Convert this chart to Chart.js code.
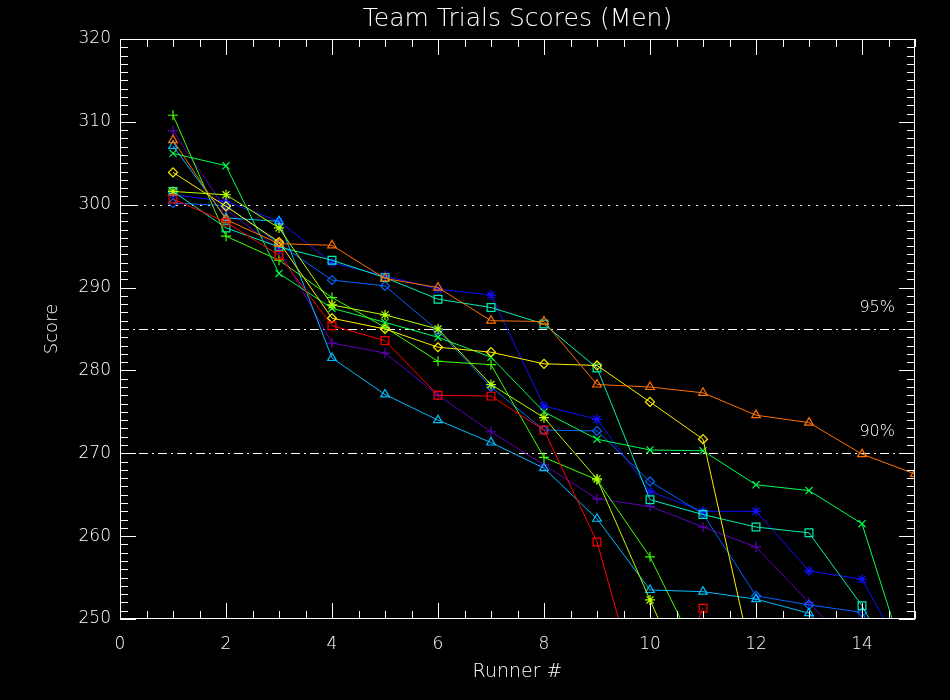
<!DOCTYPE html>
<html>
<head>
<meta charset="utf-8">
<script src="https://cdn.jsdelivr.net/npm/chart.js@4"></script>
<style>
  html, body { margin: 0; padding: 0; background: #000; }
</style>
</head>
<body>
<canvas id="chart" width="950" height="700"></canvas>
<script>
// runner positions (x) and axis ticks
const RUNNERS = [1, 2, 3, 4, 5, 6, 7, 8, 9, 10, 11, 12, 13, 14, 15];
const X_TICKS = [0, 2, 4, 6, 8, 10, 12, 14];
const Y_TICKS = [250, 260, 270, 280, 290, 300, 310, 320];
const REF_LEVELS = [300, 285, 270];
const REF_LABELS = ['', '95%', '90%'];

// scores per team, runner 1..n (values under 250 run off the plot)
const purplePlus  = [308.9, 299.4, 294.6, 283.3, 282.1, 277.0, 272.6, 268.6, 264.5, 263.6, 261.1, 258.7, 252.0, 245.0];
const blueStar    = [301.2, 300.4, 298.0, 293.0, 291.4, 289.8, 289.1, 275.7, 274.1, 265.4, 263.0, 263.0, 255.8, 254.8, 243.2];
const azureDiam   = [300.2, 299.9, 295.3, 290.9, 290.2, 284.8, 278.0, 272.8, 272.7, 266.6, 262.7, 252.8, 251.7, 250.8, 240.0];
const skyTri      = [307.1, 298.4, 298.0, 281.5, 277.1, 274.0, 271.3, 268.2, 262.1, 253.5, 253.3, 252.4, 250.7, 244.0];
const tealSquare  = [301.6, 297.2, 294.9, 293.3, 291.2, 288.6, 287.6, 285.6, 280.3, 264.4, 262.6, 261.1, 260.4, 251.6, 240.0];
const greenX      = [306.2, 304.7, 291.7, 287.5, 285.8, 284.0, 281.6, 275.0, 271.7, 270.4, 270.3, 266.2, 265.5, 261.5, 241.3];
const greenPlus   = [310.8, 296.2, 293.3, 288.8, 285.2, 281.1, 280.7, 269.5, 266.8, 257.5, 244.5];
const limeStar    = [301.6, 301.2, 297.2, 287.9, 286.7, 285.0, 278.3, 274.3, 266.9, 252.3, 238.0];
const yellowDiam  = [303.9, 299.8, 295.5, 286.3, 285.0, 282.8, 282.2, 280.8, 280.6, 276.2, 271.7, 243.0];
const orangeTri   = [307.8, 298.2, 295.3, 295.1, 291.1, 290.0, 286.0, 285.9, 278.3, 278.0, 277.3, 274.6, 273.7, 269.9, 267.5];
const redSquare   = [300.7, 297.9, 293.9, 285.4, 283.6, 277.0, 276.9, 272.8, 259.3, 236.5, 251.3];

const SERIES  = [purplePlus, blueStar, azureDiam, skyTri, tealSquare, greenX, greenPlus, limeStar, yellowDiam, orangeTri, redSquare];
const COLORS  = ['#5c00b8', '#1010ff', '#0064ff', '#00bcff', '#00f0b4', '#00ff50', '#3cff00', '#b4ff00', '#ffee00', '#ff7000', '#ff0000'];
const MARKERS = ['cross', 'star', 'rectRot', 'triangle', 'rect', 'crossRot', 'cross', 'star', 'rectRot', 'triangle', 'rect'];
const MARKER_R = { cross: 5, star: 5, rectRot: 4.5, triangle: 5, rect: 5.5, crossRot: 5 };

const FONT = '"DejaVu Sans", sans-serif';

// IDL-style box with inward ticks on all sides, reference lines and labels
const idlFrame = {
  id: 'idlFrame',
  beforeDatasetsDraw(chart) {
    const { ctx, chartArea: a, scales: { y } } = chart;
    ctx.save();
    ctx.strokeStyle = '#fff';
    ctx.lineWidth = 1;
    REF_LEVELS.forEach((lv, i) => {
      const py = Math.round(y.getPixelForValue(lv)) + 0.5;
      ctx.setLineDash(i === 0 ? [2, 6] : [9, 4, 2, 4]);
      ctx.beginPath();
      ctx.moveTo(a.left, py);
      ctx.lineTo(a.right, py);
      ctx.stroke();
    });
    ctx.setLineDash([]);
    ctx.fillStyle = '#fff';
    ctx.font = '200 16px ' + FONT;
    ctx.textAlign = 'right';
    ctx.textBaseline = 'middle';
    REF_LEVELS.forEach((lv, i) => {
      if (!REF_LABELS[i]) return;
      ctx.fillText(REF_LABELS[i], a.right - 20, y.getPixelForValue(lv) - 21);
    });
    ctx.restore();
  },
  afterDraw(chart) {
    const { ctx, chartArea: a, scales: { x, y } } = chart;
    ctx.save();
    ctx.strokeStyle = '#fff';
    ctx.lineWidth = 1;
    ctx.strokeRect(a.left + 0.5, a.top + 0.5, a.right - a.left - 1, a.bottom - a.top - 1);
    ctx.beginPath();
    for (let v = x.min; v <= x.max + 1e-9; v += 0.5) {
      const px = Math.round(x.getPixelForValue(v)) + 0.5;
      const len = Math.abs(v % 2) < 1e-9 ? 16 : 8;
      ctx.moveTo(px, a.bottom); ctx.lineTo(px, a.bottom - len);
      ctx.moveTo(px, a.top); ctx.lineTo(px, a.top + len);
    }
    for (let v = y.min; v <= y.max + 1e-9; v += 1) {
      const py = Math.round(y.getPixelForValue(v)) + 0.5;
      const len = Math.abs(v % 10) < 1e-9 ? 16 : 8;
      ctx.moveTo(a.left, py); ctx.lineTo(a.left + len, py);
      ctx.moveTo(a.right, py); ctx.lineTo(a.right - len, py);
    }
    ctx.stroke();

    ctx.fillStyle = '#fff';
    ctx.textAlign = 'center';
    ctx.textBaseline = 'middle';
    ctx.font = '200 25px ' + FONT;
    ctx.fillText('Team Trials Scores (Men)', (a.left + a.right) / 2, 19);
    ctx.font = '200 19px ' + FONT;
    ctx.fillText('Runner #', (a.left + a.right) / 2, 672);
    ctx.font = '200 18px ' + FONT;
    ctx.translate(52, (a.top + a.bottom) / 2);
    ctx.rotate(-Math.PI / 2);
    ctx.fillText('Score', 0, 0);
    ctx.restore();
  }
};

const datasets = SERIES.map((vals, i) => ({
  data: vals.map((v, k) => ({ x: RUNNERS[k], y: v })),
  borderColor: COLORS[i],
  backgroundColor: 'transparent',
  borderWidth: 1,
  pointStyle: MARKERS[i],
  pointRadius: MARKER_R[MARKERS[i]],
  pointBorderColor: COLORS[i],
  pointBackgroundColor: 'transparent',
  pointBorderWidth: 1.2,
  tension: 0,
  order: SERIES.length - i
}));

new Chart(document.getElementById('chart'), {
  type: 'line',
  data: { datasets },
  options: {
    responsive: false,
    animation: false,
    events: [],
    layout: { padding: { top: 39, right: 35, left: 0, bottom: 0 } },
    plugins: { legend: { display: false }, tooltip: { enabled: false } },
    scales: {
      x: {
        type: 'linear',
        min: 0,
        max: 15,
        grid: { display: false, drawTicks: false },
        border: { display: false },
        afterBuildTicks: s => { s.ticks = X_TICKS.map(v => ({ value: v })); },
        afterFit: s => { s.height = 81; },
        ticks: { color: '#fff', padding: 15, maxRotation: 0, font: { family: FONT, size: 17, weight: 200 } }
      },
      y: {
        type: 'linear',
        min: 250,
        max: 320,
        grid: { display: false, drawTicks: false },
        border: { display: false },
        afterBuildTicks: s => { s.ticks = Y_TICKS.map(v => ({ value: v })); },
        afterFit: s => { s.width = 120; },
        ticks: { color: '#fff', padding: 9, font: { family: FONT, size: 17, weight: 200 } }
      }
    }
  },
  plugins: [idlFrame]
});
</script>
</body>
</html>
